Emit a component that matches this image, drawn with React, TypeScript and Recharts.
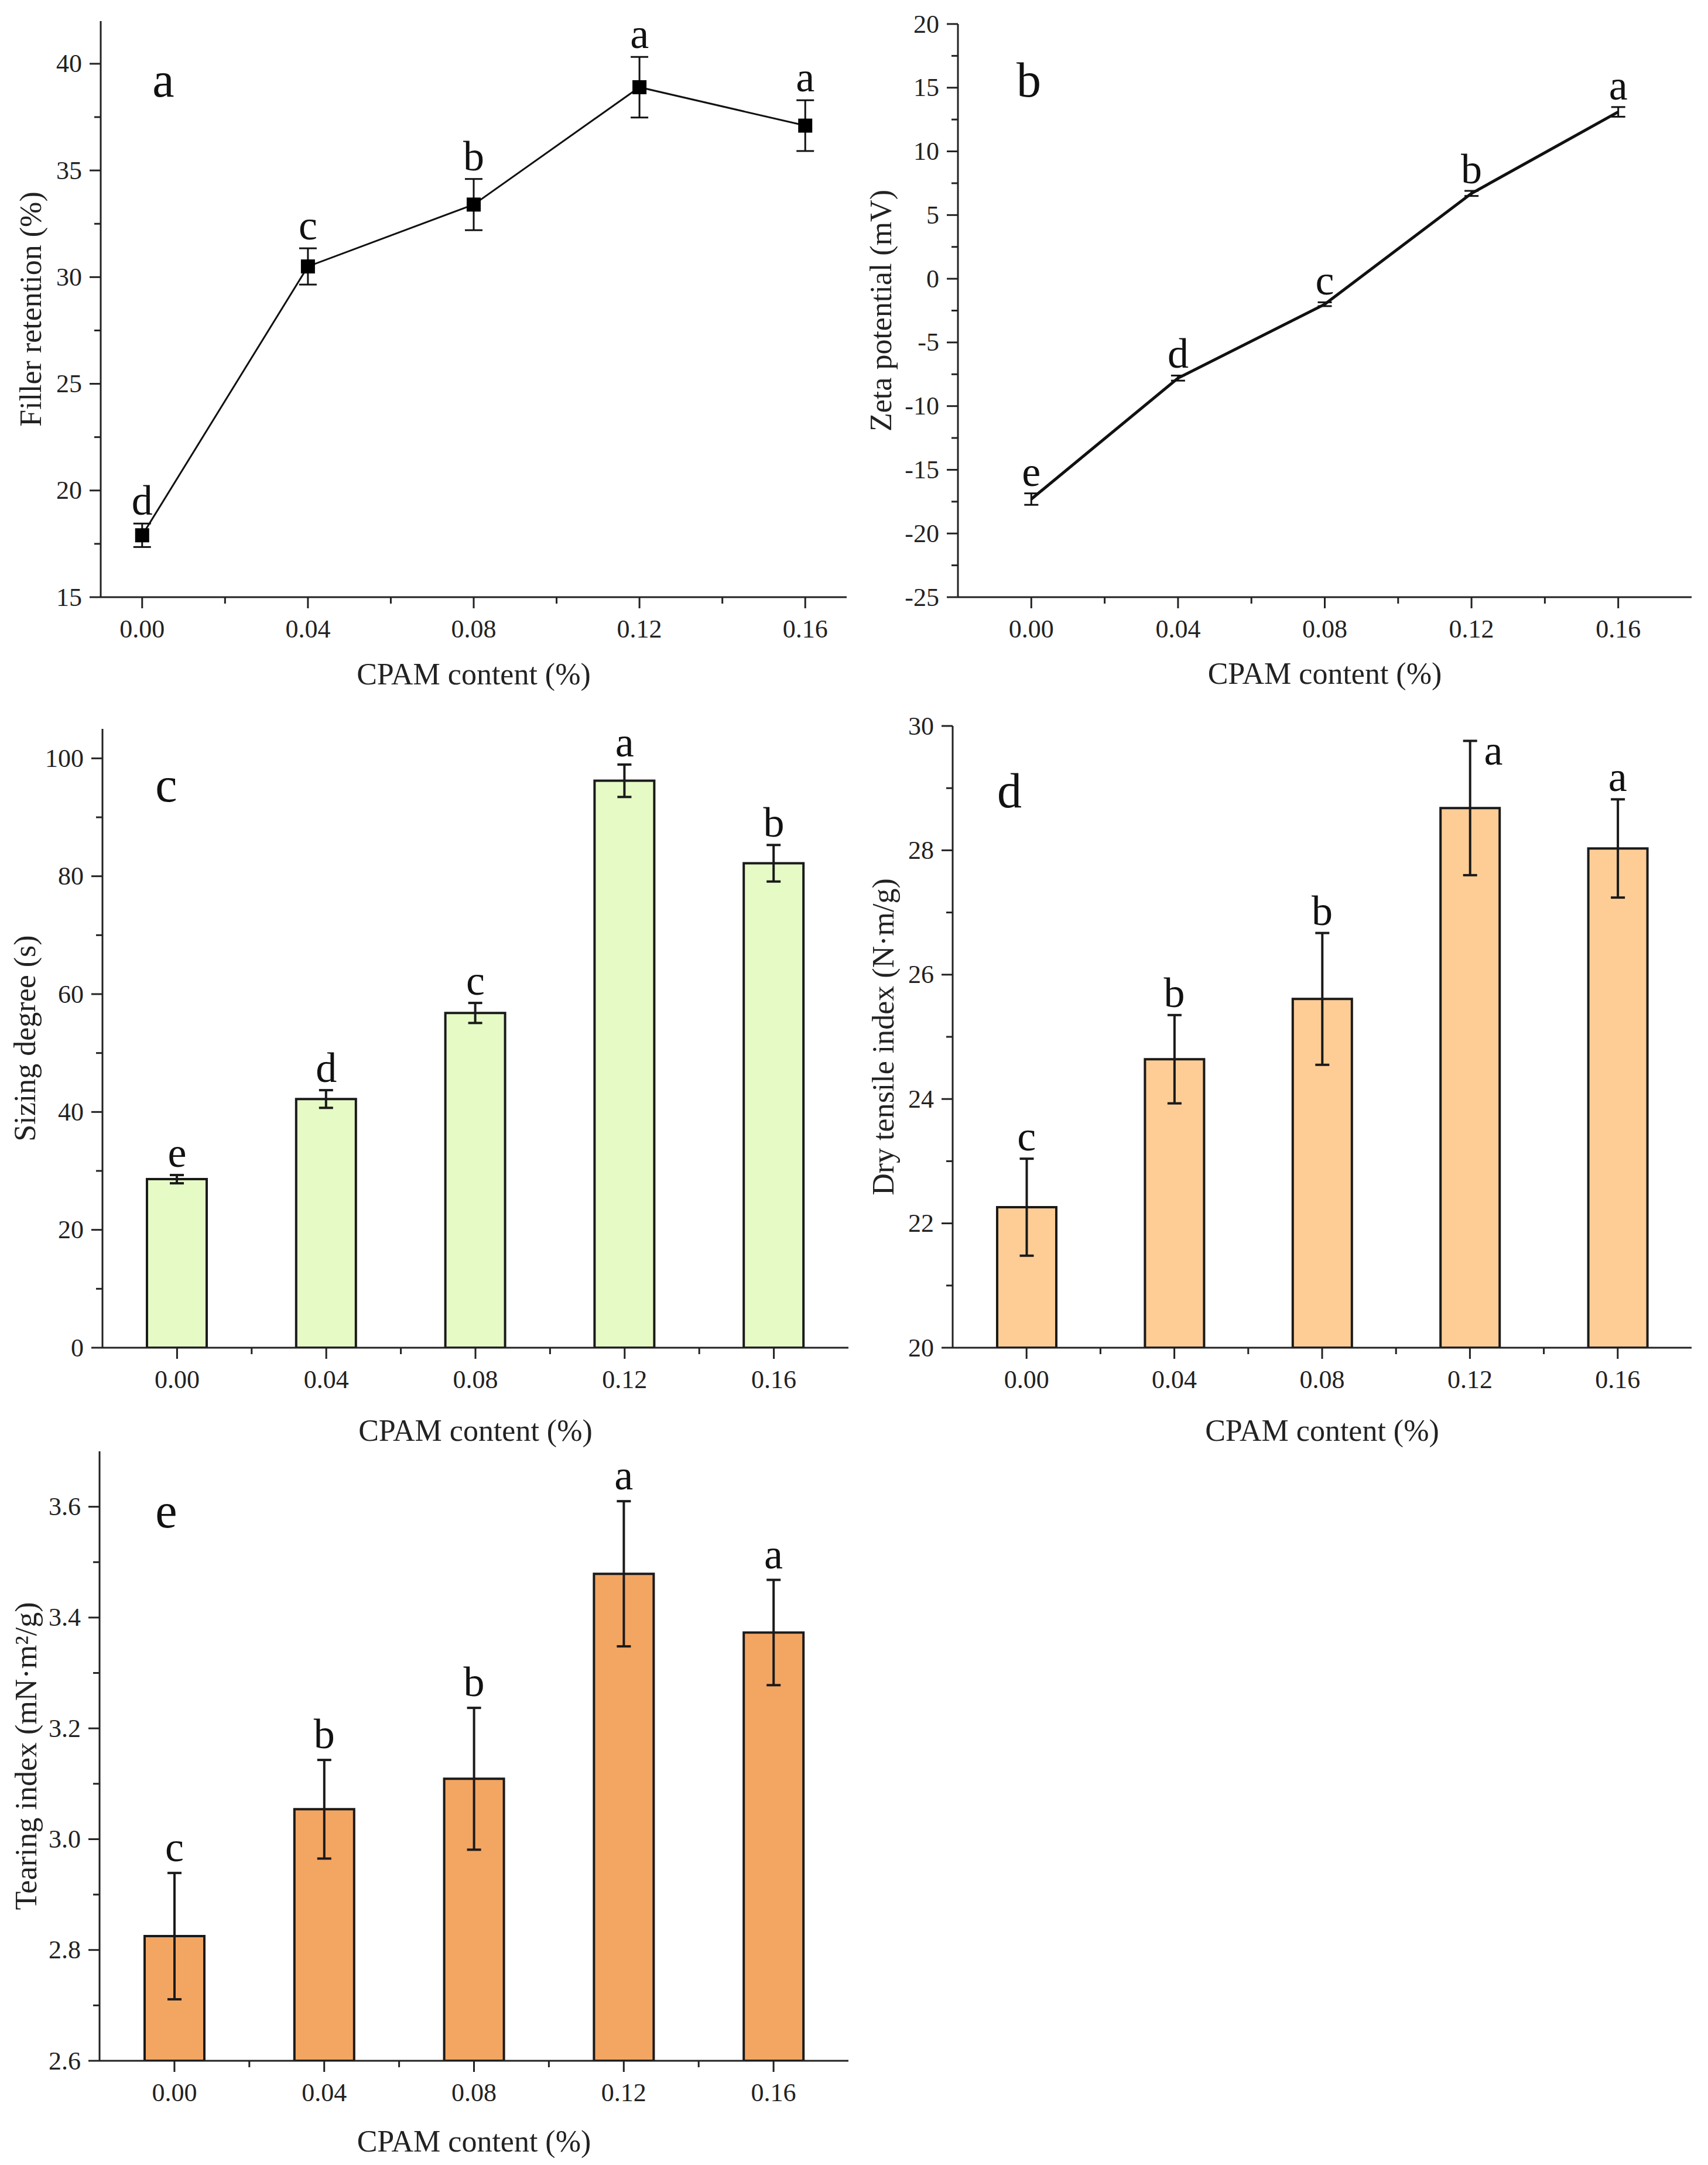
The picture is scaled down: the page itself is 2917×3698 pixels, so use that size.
import {
  LineChart,
  Line,
  BarChart,
  Bar,
  XAxis,
  YAxis,
  ErrorBar,
  ReferenceDot,
} from 'recharts';

// CPAM dosage on every panel
const CPAM = [0, 0.04, 0.08, 0.12, 0.16];

// a: filler retention (%)
const fillerRetention = [17.9, 30.5, 33.4, 38.9, 37.1];
const fillerErr = [0.55, 0.85, 1.2, 1.42, 1.19];
const fillerLetters = ['d', 'c', 'b', 'a', 'a'];

// b: zeta potential (mV)
const zeta = [-17.3, -7.8, -2.0, 6.7, 13.1];
const zetaErr = [0.45, 0.2, 0.15, 0.2, 0.38];
const zetaLetters = ['e', 'd', 'c', 'b', 'a'];

// c: sizing degree (s)
const sizing = [28.6, 42.2, 56.8, 96.2, 82.2];
const sizingErr = [0.7, 1.5, 1.7, 2.75, 3.1];
const sizingLetters = ['e', 'd', 'c', 'a', 'b'];

// d: dry tensile index (N·m/g)
const dryTensile = [22.26, 24.64, 25.61, 28.68, 28.03];
const dryTensileErr = [0.78, 0.71, 1.06, 1.08, 0.79];
const dryTensileLetters = ['c', 'b', 'b', 'a', 'a'];

// e: tearing index (mN·m²/g)
const tearing = [2.825, 3.054, 3.109, 3.479, 3.373];
const tearingErr = [0.114, 0.089, 0.128, 0.131, 0.095];
const tearingLetters = ['c', 'b', 'b', 'a', 'a'];

// axis ticks
const xMajor = [0, 0.04, 0.08, 0.12, 0.16];
const xMinor = [0.02, 0.06, 0.1, 0.14];
const yMajorA = [15, 20, 25, 30, 35, 40];
const yMinorA = [17.5, 22.5, 27.5, 32.5, 37.5];
const yMajorB = [-25, -20, -15, -10, -5, 0, 5, 10, 15, 20];
const yMinorB = [-22.5, -17.5, -12.5, -7.5, -2.5, 2.5, 7.5, 12.5, 17.5];
const yMajorC = [0, 20, 40, 60, 80, 100];
const yMinorC = [10, 30, 50, 70, 90];
const yMajorD = [20, 22, 24, 26, 28, 30];
const yMinorD = [21, 23, 25, 27, 29];
const yMajorE = [2.6, 2.8, 3.0, 3.2, 3.4, 3.6];
const yMinorE = [2.7, 2.9, 3.1, 3.3, 3.5];

const INK = '#222';
const FONT = '"Liberation Serif", "Times New Roman", serif';
const TICK_FS = 44;
const TITLE_FS = 52;
const ANNO_FS = 72;
const PANEL_FS = 84;
const MAJOR_LEN = 19;
const MINOR_LEN = 11;

function makeXTick(major: number[]) {
  return (props: any) => {
    const { x, y, payload } = props;
    const isMajor = major.includes(payload.value);
    return (
      <g>
        <line x1={x} y1={y} x2={x} y2={y + (isMajor ? MAJOR_LEN : MINOR_LEN)} stroke={INK} strokeWidth={3} />
        {isMajor && (
          <text x={x} y={y + 54} textAnchor="middle" dominantBaseline="central" fontSize={TICK_FS} fontFamily={FONT} fill={INK}>
            {payload.value.toFixed(2)}
          </text>
        )}
      </g>
    );
  };
}

function makeYTick(major: number[], fmt: (v: number) => string) {
  return (props: any) => {
    const { x, y, payload } = props;
    const isMajor = major.includes(payload.value);
    return (
      <g>
        <line x1={x - (isMajor ? MAJOR_LEN : MINOR_LEN)} y1={y} x2={x} y2={y} stroke={INK} strokeWidth={3} />
        {isMajor && (
          <text x={x - 32} y={y} textAnchor="end" dominantBaseline="central" fontSize={TICK_FS} fontFamily={FONT} fill={INK}>
            {fmt(payload.value)}
          </text>
        )}
      </g>
    );
  };
}

type PanelProps = {
  kind: 'line' | 'bar';
  left: number;
  top: number;
  width: number;
  height: number;
  box: { l: number; t: number; r: number; b: number };
  xDomain: [number, number];
  yDomain: [number, number];
  yMajor: number[];
  yMinor: number[];
  yFmt: (v: number) => string;
  values: number[];
  errs: number[];
  letters: string[];
  gap: number;
  fill?: string;
  lineWidth?: number;
  markers?: boolean;
  capWidth: number;
  xTitle: string;
  yTitle: string;
  xTitleY: number;
  yTitleX: number;
  panel: string;
  panelPos: [number, number];
  shift?: (i: number) => [number, number] | null;
};

function Panel(p: PanelProps) {
  const data = CPAM.map((x, i) => ({ x, v: p.values[i], err: p.errs[i] }));
  const margin = { top: p.box.t, right: p.width - p.box.r, left: 0, bottom: 0 };
  const plotW = p.box.r - p.box.l;
  const barSize = Math.round((plotW * 0.016) / (p.xDomain[1] - p.xDomain[0]));
  const axisStyle = { stroke: INK, strokeWidth: 3 };

  const common = [
    <XAxis
      key="xb"
      dataKey="x"
      type="number"
      domain={p.xDomain}
      ticks={[...xMajor, ...xMinor].filter((t) => t > p.xDomain[0] && t < p.xDomain[1])}
      interval={0}
      tick={makeXTick(xMajor)}
      tickLine={false}
      tickSize={0}
      tickMargin={0}
      axisLine={axisStyle}
      height={p.height - p.box.b}
      allowDataOverflow
    />,
    <XAxis
      key="xt"
      xAxisId="top"
      orientation="top"
      type="number"
      domain={p.xDomain}
      tick={false}
      tickLine={false}
      axisLine={axisStyle}
      height={0}
      allowDataOverflow
    />,
    <YAxis
      key="yl"
      type="number"
      domain={p.yDomain}
      ticks={[...p.yMajor, ...p.yMinor]}
      interval={0}
      tick={makeYTick(p.yMajor, p.yFmt)}
      tickLine={false}
      tickSize={0}
      tickMargin={0}
      axisLine={axisStyle}
      width={p.box.l}
      allowDataOverflow
    />,
    <YAxis
      key="yr"
      yAxisId="right"
      orientation="right"
      type="number"
      domain={p.yDomain}
      tick={false}
      tickLine={false}
      axisLine={axisStyle}
      width={0}
      allowDataOverflow
    />,
    ...p.letters.map((s, i) => {
      const sh = p.shift ? p.shift(i) : null;
      const dx = sh ? sh[0] : 0;
      const dy = sh ? sh[1] : -p.gap;
      return (
        <ReferenceDot
          key={'ann' + i}
          x={CPAM[i]}
          y={p.values[i] + p.errs[i]}
          r={0}
          fill="none"
          stroke="none"
          ifOverflow="visible"
          label={(lp: any) => {
            const vb = lp.viewBox || { x: 0, y: 0 };
            return (
              <text x={vb.x + dx} y={vb.y + dy} textAnchor="middle" fontSize={ANNO_FS} fontFamily={FONT} fill="#111">
                {s}
              </text>
            );
          }}
        />
      );
    }),
  ];

  const squareDot = (dp: any) => (
    <rect key={'sq' + dp.index} x={dp.cx - 12} y={dp.cy - 12} width={24} height={24} fill="#000" />
  );

  return (
    <div style={{ position: 'absolute', left: p.left, top: p.top, width: p.width, height: p.height }}>
      {p.kind === 'line' ? (
        <LineChart width={p.width} height={p.height} data={data} margin={margin}>
          {common}
          <Line
            type="linear"
            dataKey="v"
            stroke="#111"
            strokeWidth={p.lineWidth || 3}
            dot={p.markers ? squareDot : false}
            activeDot={false}
            isAnimationActive={false}
          >
            <ErrorBar dataKey="err" direction="y" width={p.capWidth} stroke="#111" strokeWidth={3} isAnimationActive={false} />
          </Line>
        </LineChart>
      ) : (
        <BarChart width={p.width} height={p.height} data={data} margin={margin}>
          {common}
          <Bar dataKey="v" fill={p.fill} stroke="#1a1a1a" strokeWidth={4} barSize={barSize} isAnimationActive={false}>
            <ErrorBar dataKey="err" direction="y" width={p.capWidth} stroke="#1a1a1a" strokeWidth={4} isAnimationActive={false} />
          </Bar>
        </BarChart>
      )}
      <svg
        width={p.width}
        height={p.height}
        style={{ position: 'absolute', left: 0, top: 0, pointerEvents: 'none' }}
      >
        <text
          x={(p.box.l + p.box.r) / 2}
          y={p.xTitleY}
          textAnchor="middle"
          dominantBaseline="central"
          fontSize={TITLE_FS}
          fontFamily={FONT}
          fill={INK}
        >
          {p.xTitle}
        </text>
        <text
          x={p.yTitleX}
          y={(p.box.t + p.box.b) / 2}
          textAnchor="middle"
          dominantBaseline="central"
          fontSize={TITLE_FS}
          fontFamily={FONT}
          fill={INK}
          transform={`rotate(-90 ${p.yTitleX} ${(p.box.t + p.box.b) / 2})`}
        >
          {p.yTitle}
        </text>
        <text x={p.panelPos[0]} y={p.panelPos[1]} textAnchor="middle" fontSize={PANEL_FS} fontFamily={FONT} fill="#111">
          {p.panel}
        </text>
      </svg>
    </div>
  );
}

const intFmt = (v: number) => String(v);
const oneDec = (v: number) => v.toFixed(1);

export default function App() {
  return (
    <div style={{ position: 'absolute', left: 0, top: 0, width: 2917, height: 3698, background: '#fff', fontFamily: FONT }}>
      <Panel
        kind="line"
        left={0}
        top={0}
        width={1460}
        height={1190}
        box={{ l: 172, t: 36, r: 1446, b: 1020 }}
        xDomain={[-0.01, 0.17]}
        yDomain={[15, 42]}
        yMajor={yMajorA}
        yMinor={yMinorA}
        yFmt={intFmt}
        values={fillerRetention}
        errs={fillerErr}
        letters={fillerLetters}
        gap={15}
        markers
        lineWidth={3}
        capWidth={15}
        xTitle="CPAM content (%)"
        yTitle="Filler retention (%)"
        xTitleY={1151}
        yTitleX={52}
        panel="a"
        panelPos={[279, 165]}
      />
      <Panel
        kind="line"
        left={1460}
        top={0}
        width={1457}
        height={1190}
        box={{ l: 176, t: 41, r: 1429, b: 1020 }}
        xDomain={[-0.02, 0.18]}
        yDomain={[-25, 20]}
        yMajor={yMajorB}
        yMinor={yMinorB}
        yFmt={intFmt}
        values={zeta}
        errs={zetaErr}
        letters={zetaLetters}
        gap={13}
        lineWidth={5}
        capWidth={12}
        xTitle="CPAM content (%)"
        yTitle="Zeta potential (mV)"
        xTitleY={1150}
        yTitleX={44}
        panel="b"
        panelPos={[297, 165]}
      />
      <Panel
        kind="bar"
        left={0}
        top={1190}
        width={1460}
        height={1300}
        box={{ l: 175, t: 55, r: 1449, b: 1112 }}
        xDomain={[-0.02, 0.18]}
        yDomain={[0, 105]}
        yMajor={yMajorC}
        yMinor={yMinorC}
        yFmt={intFmt}
        values={sizing}
        errs={sizingErr}
        letters={sizingLetters}
        gap={14}
        fill="#e6fac6"
        capWidth={12}
        xTitle="CPAM content (%)"
        yTitle="Sizing degree (s)"
        xTitleY={1253}
        yTitleX={42}
        panel="c"
        panelPos={[284, 179]}
      />
      <Panel
        kind="bar"
        left={1460}
        top={1190}
        width={1457}
        height={1300}
        box={{ l: 167, t: 50, r: 1429, b: 1112 }}
        xDomain={[-0.02, 0.18]}
        yDomain={[20, 30]}
        yMajor={yMajorD}
        yMinor={yMinorD}
        yFmt={intFmt}
        values={dryTensile}
        errs={dryTensileErr}
        letters={dryTensileLetters}
        gap={14}
        fill="#fdcd95"
        capWidth={12}
        xTitle="CPAM content (%)"
        yTitle="Dry tensile index (N·m/g)"
        xTitleY={1253}
        yTitleX={48}
        panel="d"
        panelPos={[264, 189]}
        shift={(i) => (i === 3 ? [40, 41] : null)}
      />
      <Panel
        kind="bar"
        left={0}
        top={2400}
        width={1460}
        height={1298}
        box={{ l: 170, t: 79, r: 1449, b: 1120 }}
        xDomain={[-0.02, 0.18]}
        yDomain={[2.6, 3.7]}
        yMajor={yMajorE}
        yMinor={yMinorE}
        yFmt={oneDec}
        values={tearing}
        errs={tearingErr}
        letters={tearingLetters}
        gap={20}
        fill="#f3a562"
        capWidth={12}
        xTitle="CPAM content (%)"
        yTitle="Tearing index (mN·m²/g)"
        xTitleY={1257}
        yTitleX={44}
        panel="e"
        panelPos={[284, 209]}
      />
    </div>
  );
}
